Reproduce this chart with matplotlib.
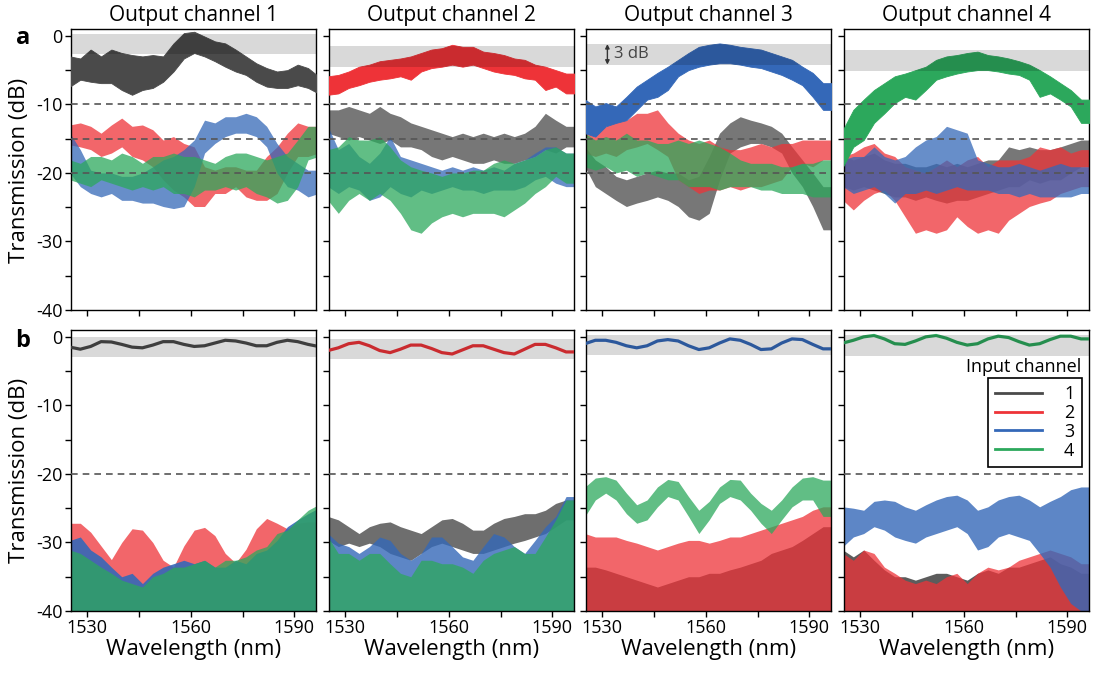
import numpy as np
import matplotlib.pyplot as plt
from matplotlib.lines import Line2D

# sample grid (nm), values every 3 nm
wl = np.arange(1525, 1598, 3)

# ---- row a : upper / lower envelope of each trace (dB) ----
a1_k_hi = [-3.0,-3.3,-2.0,-3.0,-2.0,-2.5,-2.8,-3.0,-2.8,-3.0,-1.1,0.4,0.6,-0.1,-0.8,-1.1,-2.0,-3.0,-4.0,-4.7,-5.2,-5.0,-4.2,-4.7,-5.9]
a1_k_lo = [-7.4,-6.4,-6.7,-6.9,-6.9,-7.9,-8.6,-7.9,-7.6,-6.7,-5.2,-3.3,-2.5,-3.0,-3.7,-4.5,-5.2,-5.7,-6.7,-7.4,-7.6,-7.6,-7.2,-7.6,-8.4]
a1_r_hi = [-13.0,-12.7,-13.2,-14.2,-13.0,-12.0,-13.2,-13.0,-13.7,-15.2,-14.7,-15.7,-16.2,-19.1,-19.6,-19.1,-19.1,-19.6,-19.6,-17.6,-16.2,-14.2,-12.7,-13.2,-13.2]
a1_r_lo = [-15.9,-16.2,-16.6,-17.6,-17.1,-16.2,-17.6,-18.1,-19.1,-21.0,-22.5,-23.5,-24.9,-24.9,-23.0,-23.0,-22.0,-23.5,-24.0,-24.0,-23.0,-20.0,-17.6,-17.6,-17.1]
a1_b_hi = [-14.2,-16.6,-19.6,-20.0,-20.0,-20.5,-20.5,-20.0,-19.1,-18.1,-17.6,-16.6,-15.2,-12.3,-12.7,-11.8,-11.8,-11.3,-11.8,-13.2,-15.7,-17.6,-18.6,-19.6,-19.6]
a1_b_lo = [-20.0,-22.0,-23.0,-23.5,-23.0,-24.0,-24.0,-24.4,-24.4,-24.9,-25.2,-24.9,-22.0,-17.1,-15.7,-14.7,-14.2,-14.2,-14.7,-16.2,-20.0,-22.0,-22.5,-23.5,-23.0]
a1_g_hi = [-18.1,-18.6,-17.6,-17.6,-18.1,-17.1,-17.6,-18.6,-17.6,-17.6,-17.1,-17.6,-17.6,-18.1,-18.6,-17.6,-17.1,-17.1,-17.6,-18.1,-17.6,-17.1,-15.2,-13.2,-13.2]
a1_g_lo = [-21.0,-21.5,-22.0,-21.0,-21.5,-22.0,-22.5,-22.0,-22.5,-22.0,-23.0,-23.0,-23.5,-22.5,-22.5,-22.0,-22.5,-22.0,-23.0,-23.5,-24.4,-24.0,-22.0,-18.1,-17.6]

a2_k_hi = [-10.8,-10.8,-10.3,-10.8,-11.3,-10.3,-11.3,-11.8,-12.7,-13.2,-13.7,-14.2,-14.7,-14.2,-14.7,-14.2,-14.7,-14.2,-14.7,-14.2,-13.2,-11.3,-12.3,-13.2,-13.2]
a2_k_lo = [-14.2,-14.7,-15.2,-14.7,-15.2,-15.7,-15.2,-16.2,-16.2,-16.6,-17.6,-18.1,-17.6,-18.1,-18.6,-18.6,-18.1,-18.6,-18.6,-18.1,-17.6,-16.6,-17.1,-16.2,-16.2]
a2_r_hi = [-5.9,-5.7,-5.2,-4.5,-4.2,-3.7,-3.5,-3.3,-3.0,-2.5,-2.0,-1.8,-1.3,-1.6,-1.6,-2.3,-2.5,-2.8,-3.3,-3.5,-4.2,-4.5,-5.0,-5.5,-5.5]
a2_r_lo = [-8.6,-8.4,-7.6,-7.2,-6.7,-6.4,-6.2,-5.9,-6.4,-5.2,-4.7,-4.5,-4.2,-4.5,-4.2,-4.7,-5.2,-5.5,-5.7,-6.2,-6.4,-7.9,-7.4,-8.4,-8.4]
a2_b_hi = [-13.2,-16.6,-15.7,-17.6,-18.6,-17.1,-14.7,-17.6,-18.1,-18.6,-19.1,-19.6,-19.1,-19.6,-19.1,-19.6,-19.1,-19.6,-18.6,-18.1,-17.1,-16.2,-16.2,-17.1,-17.1]
a2_b_lo = [-22.0,-23.0,-22.0,-22.5,-24.0,-23.5,-22.0,-23.0,-23.5,-22.5,-23.0,-22.5,-22.0,-22.5,-22.5,-23.0,-22.5,-22.5,-22.5,-22.0,-21.0,-20.5,-21.5,-22.0,-22.0]
a2_g_hi = [-16.6,-16.2,-14.7,-15.2,-15.2,-14.7,-16.2,-18.1,-19.1,-19.6,-20.0,-20.5,-20.0,-20.0,-19.6,-19.6,-18.6,-18.1,-18.6,-18.1,-17.6,-16.6,-16.2,-17.1,-17.1]
a2_g_lo = [-24.0,-25.9,-24.0,-23.0,-24.0,-23.0,-24.0,-25.9,-28.3,-28.8,-27.3,-26.4,-25.9,-26.4,-25.9,-25.9,-25.9,-26.4,-25.4,-24.4,-23.0,-22.0,-20.5,-21.5,-21.5]

a3_k_hi = [-16.2,-18.1,-19.1,-20.5,-21.0,-20.5,-20.0,-19.6,-20.0,-20.0,-21.0,-20.5,-17.6,-14.2,-12.7,-11.8,-12.3,-12.7,-13.2,-14.2,-16.2,-18.1,-20.0,-22.0,-22.0]
a3_k_lo = [-19.1,-22.0,-23.0,-24.0,-24.9,-24.4,-24.0,-23.5,-24.0,-24.9,-26.4,-26.9,-25.9,-21.0,-17.1,-16.2,-15.7,-15.7,-16.2,-17.1,-20.0,-22.0,-24.9,-28.3,-28.3]
a3_r_hi = [-14.2,-13.7,-13.2,-12.3,-12.3,-11.3,-11.3,-10.8,-12.7,-14.2,-15.2,-15.7,-15.2,-16.2,-16.6,-16.6,-16.2,-15.7,-16.2,-15.7,-15.7,-15.2,-15.2,-15.2,-15.2]
a3_r_lo = [-17.1,-17.6,-17.1,-17.6,-16.6,-16.2,-15.7,-16.6,-17.6,-21.0,-22.0,-23.0,-22.5,-22.5,-22.0,-22.5,-22.0,-22.0,-21.5,-21.0,-19.1,-18.6,-19.1,-18.1,-18.1]
a3_b_hi = [-9.3,-10.3,-9.8,-10.3,-8.9,-7.4,-6.4,-5.4,-4.5,-3.5,-2.5,-1.6,-1.3,-1.1,-1.3,-1.6,-1.8,-2.0,-2.5,-3.0,-3.5,-4.5,-5.4,-6.9,-6.9]
a3_b_lo = [-14.2,-14.7,-13.2,-12.7,-12.3,-10.8,-9.3,-8.9,-7.9,-5.9,-5.0,-4.5,-4.2,-4.0,-4.0,-4.2,-4.5,-4.7,-5.2,-5.7,-6.4,-7.2,-8.9,-10.8,-10.8]
a3_g_hi = [-14.2,-15.2,-14.7,-15.2,-14.2,-15.2,-15.2,-15.7,-15.7,-15.2,-15.7,-15.2,-15.7,-16.2,-17.1,-18.1,-18.6,-18.6,-18.6,-19.1,-19.1,-18.6,-18.6,-18.1,-18.1]
a3_g_lo = [-19.1,-19.6,-19.1,-20.0,-19.6,-20.5,-20.0,-20.5,-21.0,-21.0,-22.0,-22.0,-22.0,-22.5,-22.0,-22.0,-22.0,-22.5,-22.5,-23.0,-23.0,-23.0,-23.5,-23.5,-23.5]

a4_k_hi = [-17.6,-18.1,-17.6,-17.1,-18.1,-18.6,-18.6,-19.1,-19.1,-18.6,-19.1,-18.6,-19.1,-18.6,-18.1,-18.1,-16.2,-16.6,-16.2,-16.6,-16.6,-16.2,-15.7,-15.2,-15.2]
a4_k_lo = [-22.0,-22.5,-22.0,-22.5,-23.0,-23.5,-23.5,-24.0,-23.5,-24.0,-24.4,-24.0,-24.0,-23.5,-23.0,-22.5,-22.0,-22.0,-21.0,-21.5,-21.0,-21.0,-20.0,-19.1,-19.1]
a4_r_hi = [-17.6,-17.1,-16.2,-15.7,-17.1,-17.6,-19.1,-19.6,-20.0,-19.1,-18.1,-19.1,-18.1,-17.6,-19.1,-18.1,-18.1,-18.1,-17.6,-16.2,-16.6,-16.2,-17.1,-16.6,-16.6]
a4_r_lo = [-24.0,-25.4,-24.0,-23.0,-22.5,-24.0,-26.4,-28.8,-28.3,-28.8,-28.3,-26.4,-27.8,-28.8,-28.3,-28.8,-26.9,-25.9,-24.9,-24.4,-24.0,-23.0,-22.5,-22.0,-22.0]
a4_b_hi = [-18.1,-17.6,-17.6,-16.2,-17.6,-18.1,-17.6,-16.2,-15.2,-14.7,-13.2,-13.7,-14.2,-18.1,-18.6,-19.1,-19.1,-18.6,-19.1,-19.6,-19.1,-18.6,-19.1,-19.1,-19.1]
a4_b_lo = [-22.0,-23.0,-22.5,-22.0,-23.0,-24.4,-23.0,-23.0,-22.5,-23.0,-22.5,-22.0,-22.5,-22.5,-22.5,-23.0,-23.0,-23.5,-23.0,-23.5,-23.5,-23.5,-23.5,-23.0,-23.0]
a4_g_hi = [-13.7,-10.8,-9.3,-7.9,-6.9,-5.9,-5.5,-5.0,-4.5,-3.5,-3.0,-2.8,-2.5,-2.3,-2.8,-3.0,-3.3,-3.7,-4.2,-5.0,-5.9,-6.9,-7.9,-9.3,-9.3]
a4_g_lo = [-19.1,-16.2,-15.2,-12.7,-11.3,-9.8,-8.9,-9.3,-7.9,-6.4,-5.9,-5.5,-5.2,-5.0,-5.0,-5.2,-5.5,-5.7,-6.4,-8.9,-8.4,-9.3,-10.3,-12.7,-12.7]

# ---- row b : through-port centre lines and top of crosstalk floors (dB) ----
b1_k = [-1.5,-1.8,-1.4,-0.7,-0.75,-1.1,-1.5,-1.6,-1.2,-0.7,-0.7,-1.1,-1.4,-1.3,-0.9,-0.5,-0.6,-0.9,-1.3,-1.3,-0.8,-0.5,-0.7,-1.1,-1.4]
b1_r_top = [-27.2,-27.2,-28.5,-30.5,-32.5,-30.0,-28.0,-28.2,-30.0,-32.6,-33.6,-30.5,-28.2,-27.8,-29.0,-31.6,-33.0,-31.0,-28.0,-26.5,-27.2,-28.0,-27.2,-27.0,-27.0]
b1_b_top = [-29.7,-29.2,-31.1,-32.1,-33.6,-35.0,-34.5,-36.0,-34.5,-33.6,-33.1,-32.6,-33.1,-32.6,-33.6,-33.6,-32.6,-33.1,-31.6,-31.1,-29.7,-27.7,-26.7,-25.8,-25.0]
b1_g_top = [-31.1,-31.6,-32.6,-33.6,-34.5,-35.5,-36.0,-36.5,-35.0,-34.5,-33.6,-33.6,-33.1,-32.6,-33.6,-32.6,-32.6,-32.1,-31.1,-30.6,-28.7,-28.2,-26.7,-25.3,-24.5]

b2_r = [-2.0,-1.6,-1.0,-0.8,-1.3,-2.0,-2.3,-1.8,-1.2,-1.2,-1.7,-2.3,-2.5,-1.9,-1.3,-1.3,-1.8,-2.3,-2.5,-1.8,-1.1,-1.1,-1.6,-2.2,-2.2]
b2_k_top = [-26.2,-26.7,-27.7,-28.7,-27.7,-27.2,-27.0,-27.7,-28.2,-28.7,-27.7,-26.7,-26.5,-27.2,-28.2,-28.2,-27.2,-26.5,-26.2,-25.8,-25.8,-25.3,-24.3,-23.8,-23.8]
b2_k_bot = [-29.7,-30.6,-30.1,-30.6,-30.1,-30.6,-31.6,-32.1,-32.6,-31.6,-30.6,-30.1,-30.6,-31.1,-31.6,-31.6,-31.1,-30.6,-30.1,-29.7,-29.2,-28.7,-27.7,-26.7,-26.7]
b2_b_top = [-28.7,-30.1,-30.6,-31.6,-30.6,-29.2,-29.7,-31.6,-32.6,-31.6,-29.2,-29.2,-30.6,-32.1,-32.6,-30.6,-28.7,-29.2,-30.6,-31.6,-29.7,-27.7,-26.2,-23.3,-23.3]
b2_g_top = [-29.2,-31.6,-31.6,-32.6,-31.6,-31.6,-33.1,-34.5,-35.0,-32.6,-32.6,-33.1,-33.1,-33.6,-34.5,-32.6,-31.6,-31.1,-30.6,-31.6,-31.6,-29.2,-26.7,-23.8,-23.8]

b3_b = [-1.0,-0.5,-0.5,-0.8,-1.3,-1.6,-1.3,-0.6,-0.4,-0.6,-1.3,-1.85,-1.6,-0.9,-0.3,-0.5,-1.1,-1.85,-1.75,-0.9,-0.3,-0.4,-1.1,-1.75,-1.75]
b3_g_hi = [-21.9,-20.6,-20.4,-20.9,-22.8,-24.5,-23.8,-21.9,-20.8,-21.1,-23.3,-25.3,-24.0,-21.9,-20.8,-20.9,-22.8,-24.3,-25.3,-23.8,-21.9,-20.6,-20.4,-20.9,-20.9]
b3_g_lo = [-26.2,-23.8,-22.8,-23.8,-25.8,-27.2,-26.7,-24.8,-23.3,-23.8,-26.2,-28.7,-26.7,-24.3,-23.3,-23.8,-25.3,-27.2,-28.7,-26.7,-24.8,-23.8,-23.8,-26.2,-26.2]
b3_r_top = [-28.7,-29.2,-29.2,-29.2,-29.7,-30.1,-30.6,-31.1,-30.6,-30.1,-29.7,-29.7,-30.1,-29.7,-29.2,-29.2,-28.7,-28.2,-27.7,-27.2,-26.7,-26.2,-25.3,-24.8,-24.8]
b3_k_top = [-33.6,-33.6,-34.0,-34.5,-35.0,-35.5,-36.0,-36.5,-36.0,-35.5,-35.0,-35.0,-34.5,-34.5,-34.0,-33.6,-33.1,-32.6,-31.6,-31.1,-30.6,-29.7,-28.7,-27.7,-27.7]

b4_g = [-0.9,-0.5,0.0,0.2,-0.3,-1.0,-1.1,-0.6,0.0,0.2,-0.2,-0.8,-1.2,-1.0,-0.3,0.1,-0.1,-0.7,-1.2,-1.0,-0.4,0.1,0.1,-0.3,-0.3]
b4_b_hi = [-24.8,-25.0,-25.3,-24.0,-23.8,-24.0,-24.8,-25.3,-24.5,-23.8,-23.3,-23.1,-23.8,-25.3,-24.8,-23.8,-23.3,-23.1,-23.8,-24.8,-24.0,-23.3,-22.3,-21.9,-21.9]
b4_b_lo = [-30.6,-29.2,-28.7,-27.7,-28.2,-29.2,-29.7,-30.1,-29.2,-28.7,-28.2,-27.7,-28.7,-31.1,-30.6,-29.2,-28.7,-29.2,-29.7,-31.6,-33.6,-36.5,-38.9,-40.0,-40.0]
b4_r_top = [-31.6,-32.6,-31.1,-31.6,-33.6,-34.5,-35.5,-36.0,-35.5,-36.0,-35.0,-34.5,-36.0,-34.5,-33.6,-34.0,-33.6,-32.6,-32.1,-31.6,-31.1,-31.6,-32.1,-33.1,-33.1]
b4_k_top = [-31.1,-32.1,-31.1,-32.6,-34.0,-35.0,-35.0,-35.5,-35.0,-34.5,-34.5,-35.0,-35.5,-34.5,-34.0,-34.5,-33.6,-33.6,-33.1,-32.6,-32.1,-33.1,-33.6,-34.5,-34.5]

# top of the 3 dB grey window in each panel
band_top_a = [0.3, -1.5, -1.2, -2.1]
band_top_b = [0.0, -0.3, 0.3, 0.2]
titles = ['Output channel 1', 'Output channel 2', 'Output channel 3', 'Output channel 4']

colors = ['#4a4a4a', '#ee3338', '#3468b8', '#2ca85c']

plt.rcParams['font.family'] = ['Open Sans', 'DejaVu Sans']

fig = plt.figure(figsize=(10.99, 6.73), dpi=100)
W, H = 1099, 673
lefts = [71, 329, 586, 844]
axw = 245

def make_ax(left, top, bottom):
    return fig.add_axes([left / W, 1 - bottom / H, axw / W, (bottom - top) / H])

def style(ax, col, row):
    ax.set_xlim(1525.3, 1596.3)
    ax.set_ylim(-40, 1)
    ax.set_xticks([1530, 1545, 1560, 1575, 1590])
    ax.set_yticks(range(-40, 1, 5))
    if row == 'b':
        ax.set_xticklabels(['1530', '', '1560', '', '1590'])
        ax.set_xlabel('Wavelength (nm)', fontsize=16, labelpad=1)
    else:
        ax.set_xticklabels([])
    if col == 0:
        ax.set_yticklabels([str(v) if v % 10 == 0 else '' for v in range(-40, 1, 5)])
    else:
        ax.set_yticklabels([])
    ax.tick_params(direction='out', length=4, width=1, labelsize=13, pad=2)
    for s in ax.spines.values():
        s.set_linewidth(1)

def band(ax, top):
    ax.axhspan(top - 3, top, color='black', alpha=0.15, lw=0, zorder=5)

a_data = [
    [(a1_k_hi, a1_k_lo), (a1_r_hi, a1_r_lo), (a1_b_hi, a1_b_lo), (a1_g_hi, a1_g_lo)],
    [(a2_k_hi, a2_k_lo), (a2_r_hi, a2_r_lo), (a2_b_hi, a2_b_lo), (a2_g_hi, a2_g_lo)],
    [(a3_k_hi, a3_k_lo), (a3_r_hi, a3_r_lo), (a3_b_hi, a3_b_lo), (a3_g_hi, a3_g_lo)],
    [(a4_k_hi, a4_k_lo), (a4_r_hi, a4_r_lo), (a4_b_hi, a4_b_lo), (a4_g_hi, a4_g_lo)],
]

# row a
for c in range(4):
    ax = make_ax(lefts[c], 29, 310)
    for k, (hi, lo) in enumerate(a_data[c]):
        if k == c:
            ax.fill_between(wl, lo, hi, color=colors[k], lw=0.6, ec=colors[k], zorder=3)
        else:
            ax.fill_between(wl, lo, hi, color=colors[k], alpha=0.75, lw=0, zorder=2)
    band(ax, band_top_a[c])
    for y in (-10, -15, -20):
        ax.axhline(y, color='#555555', lw=1.2, ls=(0, (4, 3)), zorder=6)
    ax.set_title(titles[c], fontsize=15, pad=6)
    style(ax, c, 'a')
    if c == 2:
        ax.annotate('', xy=(1531.5, band_top_a[c] - 3), xytext=(1531.5, band_top_a[c]),
                    arrowprops=dict(arrowstyle='<|-|>', color='#333333', lw=1,
                                    mutation_scale=6, shrinkA=0, shrinkB=0), zorder=7)
        ax.text(1533.3, band_top_a[c] - 1.5, '3 dB', fontsize=12, color='#444444',
                va='center', ha='left', zorder=7)

# row b
floor = -41
b_main = [b1_k, b2_r, b3_b, b4_g]

axb = [make_ax(lefts[c], 330, 611) for c in range(4)]

ax = axb[0]
ax.fill_between(wl, floor, b1_r_top, color=colors[1], alpha=0.75, lw=0, zorder=2)
ax.fill_between(wl, floor, b1_b_top, color=colors[2], alpha=0.9, lw=0, zorder=2)
ax.fill_between(wl, floor, b1_g_top, color=colors[3], alpha=0.75, lw=0, zorder=2)

ax = axb[1]
ax.fill_between(wl, b2_k_bot, b2_k_top, color=colors[0], alpha=0.8, lw=0, zorder=2)
ax.fill_between(wl, floor, b2_b_top, color=colors[2], alpha=0.8, lw=0, zorder=2)
ax.fill_between(wl, floor, b2_g_top, color=colors[3], alpha=0.75, lw=0, zorder=2)

ax = axb[2]
ax.fill_between(wl, floor, b3_k_top, color=colors[0], alpha=0.9, lw=0, zorder=2)
ax.fill_between(wl, floor, b3_r_top, color=colors[1], alpha=0.75, lw=0, zorder=2)
ax.fill_between(wl, b3_g_lo, b3_g_hi, color=colors[3], alpha=0.75, lw=0, zorder=2)

ax = axb[3]
ax.fill_between(wl, floor, b4_k_top, color=colors[0], alpha=0.9, lw=0, zorder=2)
ax.fill_between(wl, floor, b4_r_top, color=colors[1], alpha=0.75, lw=0, zorder=2)
ax.fill_between(wl, b4_b_lo, b4_b_hi, color=colors[2], alpha=0.8, lw=0, zorder=2)

for c in range(4):
    ax = axb[c]
    ax.plot(wl, b_main[c], color=colors[c], lw=2.3, zorder=3)
    band(ax, band_top_b[c])
    ax.hlines(-20, 1525.3, 1594.5, color='#555555', lw=1.2, ls=(0, (4, 3)), zorder=6)
    style(ax, c, 'b')

handles = [Line2D([], [], color=colors[k], lw=2) for k in range(4)]
leg = axb[3].legend(handles, ['1', '2', '3', '4'], loc='upper right',
                    bbox_to_anchor=(0.97, 0.83), borderaxespad=0, fontsize=13,
                    frameon=True, fancybox=False, framealpha=1, edgecolor='black',
                    handlelength=2.6, handletextpad=1.2, labelspacing=0.05,
                    borderpad=0.4)
leg.get_frame().set_linewidth(1.2)
axb[3].text(0.97, 0.868, 'Input channel', transform=axb[3].transAxes,
            ha='right', va='center', fontsize=13)

fig.text(20 / W, 1 - 170 / H, 'Transmission (dB)', rotation=90, ha='center', va='center', fontsize=16)
fig.text(20 / W, 1 - 470 / H, 'Transmission (dB)', rotation=90, ha='center', va='center', fontsize=16)
fig.text(23 / W, 1 - 38 / H, 'a', fontsize=17, fontweight='bold', ha='center', va='center')
fig.text(23 / W, 1 - 341 / H, 'b', fontsize=17, fontweight='bold', ha='center', va='center')

fig.savefig('out.png', dpi=100)
